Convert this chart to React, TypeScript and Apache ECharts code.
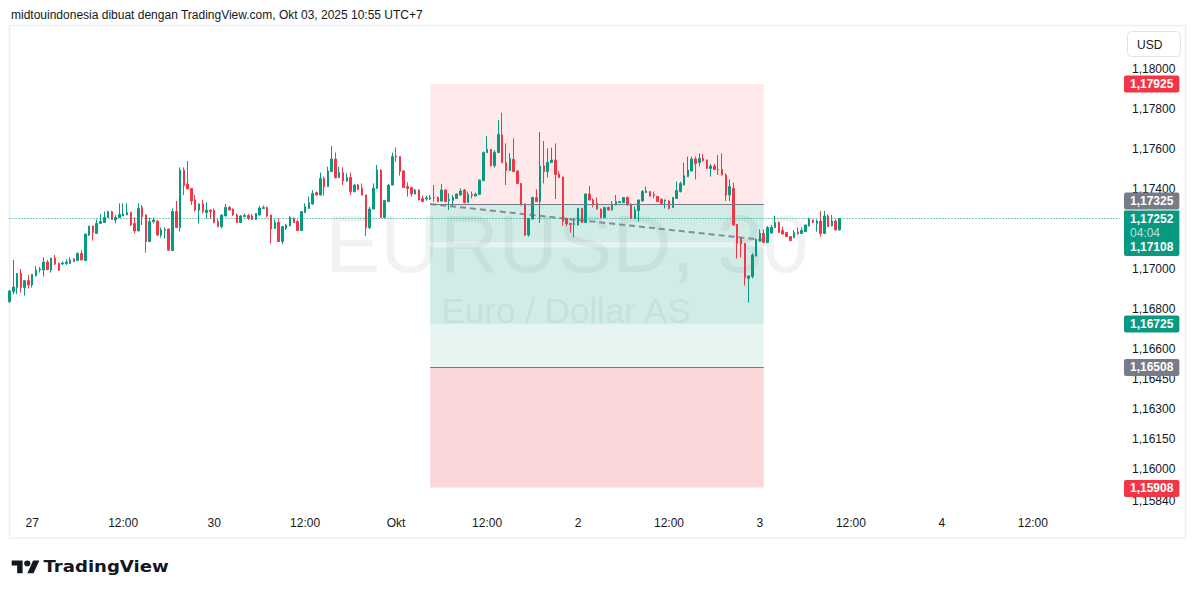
import React, { useEffect, useRef } from 'react';
import * as echarts from 'echarts';

// ---------- data ----------
// 30-minute EURUSD candles, each row: [open, high, low, close]
const candles: number[][] = [
  [1.16837, 1.16895, 1.16830, 1.16890], [1.16887, 1.17045, 1.16875, 1.16910], [1.16907, 1.16978, 1.16875, 1.16978],
  [1.16978, 1.17000, 1.16882, 1.16907], [1.16907, 1.16945, 1.16867, 1.16942], [1.16942, 1.16970, 1.16903, 1.16920],
  [1.16920, 1.16975, 1.16907, 1.16973], [1.16967, 1.17015, 1.16962, 1.16995], [1.16995, 1.17010, 1.16982, 1.17000],
  [1.16995, 1.17058, 1.16962, 1.17035], [1.17035, 1.17045, 1.16995, 1.16997], [1.16995, 1.17055, 1.16982, 1.17055],
  [1.17055, 1.17070, 1.17020, 1.17025], [1.17028, 1.17033, 1.16990, 1.16995], [1.17025, 1.17037, 1.17020, 1.17030],
  [1.17028, 1.17048, 1.17020, 1.17035], [1.17028, 1.17058, 1.17025, 1.17045], [1.17050, 1.17055, 1.17037, 1.17037],
  [1.17042, 1.17083, 1.17042, 1.17078], [1.17078, 1.17095, 1.17045, 1.17045], [1.17042, 1.17175, 1.17042, 1.17175],
  [1.17170, 1.17215, 1.17165, 1.17215], [1.17215, 1.17217, 1.17142, 1.17182], [1.17178, 1.17248, 1.17178, 1.17228],
  [1.17228, 1.17275, 1.17228, 1.17237], [1.17232, 1.17287, 1.17232, 1.17258], [1.17257, 1.17292, 1.17257, 1.17287],
  [1.17287, 1.17292, 1.17245, 1.17248], [1.17245, 1.17270, 1.17228, 1.17258], [1.17257, 1.17328, 1.17257, 1.17272],
  [1.17265, 1.17328, 1.17265, 1.17275], [1.17270, 1.17328, 1.17270, 1.17282], [1.17282, 1.17287, 1.17215, 1.17220],
  [1.17228, 1.17258, 1.17178, 1.17190], [1.17190, 1.17328, 1.17190, 1.17303], [1.17308, 1.17320, 1.17220, 1.17262],
  [1.17270, 1.17272, 1.17082, 1.17137], [1.17137, 1.17257, 1.17137, 1.17237], [1.17237, 1.17258, 1.17228, 1.17245],
  [1.17240, 1.17243, 1.17165, 1.17170], [1.17170, 1.17208, 1.17158, 1.17195], [1.17193, 1.17208, 1.17153, 1.17197],
  [1.17200, 1.17202, 1.17092, 1.17094], [1.17092, 1.17303, 1.17092, 1.17287], [1.17287, 1.17340, 1.17208, 1.17208],
  [1.17208, 1.17508, 1.17187, 1.17495], [1.17495, 1.17508, 1.17370, 1.17417], [1.17425, 1.17540, 1.17400, 1.17400],
  [1.17403, 1.17405, 1.17320, 1.17340], [1.17345, 1.17370, 1.17287, 1.17295], [1.17295, 1.17328, 1.17228, 1.17325],
  [1.17325, 1.17345, 1.17278, 1.17287], [1.17282, 1.17333, 1.17253, 1.17295], [1.17295, 1.17297, 1.17250, 1.17287],
  [1.17292, 1.17303, 1.17228, 1.17232], [1.17237, 1.17250, 1.17208, 1.17212], [1.17212, 1.17272, 1.17203, 1.17270],
  [1.17265, 1.17325, 1.17265, 1.17308], [1.17308, 1.17315, 1.17293, 1.17295], [1.17300, 1.17302, 1.17265, 1.17270],
  [1.17270, 1.17278, 1.17230, 1.17232], [1.17232, 1.17270, 1.17230, 1.17265], [1.17263, 1.17278, 1.17258, 1.17267],
  [1.17268, 1.17275, 1.17245, 1.17255], [1.17265, 1.17275, 1.17245, 1.17248], [1.17248, 1.17280, 1.17246, 1.17278],
  [1.17270, 1.17315, 1.17268, 1.17305], [1.17303, 1.17318, 1.17300, 1.17307], [1.17307, 1.17312, 1.17258, 1.17265],
  [1.17270, 1.17272, 1.17128, 1.17200], [1.17203, 1.17248, 1.17200, 1.17232], [1.17232, 1.17253, 1.17135, 1.17137],
  [1.17137, 1.17212, 1.17123, 1.17212], [1.17203, 1.17225, 1.17195, 1.17220], [1.17215, 1.17265, 1.17215, 1.17257],
  [1.17253, 1.17258, 1.17230, 1.17232], [1.17237, 1.17245, 1.17190, 1.17192], [1.17192, 1.17287, 1.17190, 1.17287],
  [1.17282, 1.17328, 1.17280, 1.17312], [1.17303, 1.17362, 1.17300, 1.17332], [1.17325, 1.17395, 1.17322, 1.17378],
  [1.17382, 1.17387, 1.17368, 1.17370], [1.17370, 1.17482, 1.17368, 1.17453], [1.17453, 1.17462, 1.17367, 1.17412],
  [1.17412, 1.17512, 1.17410, 1.17490], [1.17487, 1.17615, 1.17485, 1.17550], [1.17550, 1.17582, 1.17453, 1.17457],
  [1.17457, 1.17512, 1.17455, 1.17482], [1.17482, 1.17508, 1.17420, 1.17440], [1.17440, 1.17478, 1.17437, 1.17457],
  [1.17457, 1.17482, 1.17370, 1.17387], [1.17387, 1.17423, 1.17383, 1.17420], [1.17420, 1.17425, 1.17395, 1.17398],
  [1.17403, 1.17428, 1.17368, 1.17370], [1.17370, 1.17372, 1.17165, 1.17207], [1.17207, 1.17310, 1.17200, 1.17300],
  [1.17300, 1.17428, 1.17298, 1.17403], [1.17403, 1.17520, 1.17400, 1.17495], [1.17495, 1.17498, 1.17255, 1.17257],
  [1.17257, 1.17345, 1.17255, 1.17342], [1.17337, 1.17423, 1.17335, 1.17420], [1.17420, 1.17582, 1.17418, 1.17562],
  [1.17565, 1.17608, 1.17537, 1.17560], [1.17562, 1.17565, 1.17467, 1.17487], [1.17490, 1.17495, 1.17405, 1.17407],
  [1.17412, 1.17433, 1.17362, 1.17403], [1.17407, 1.17410, 1.17362, 1.17375], [1.17375, 1.17400, 1.17372, 1.17395],
  [1.17395, 1.17398, 1.17343, 1.17345], [1.17353, 1.17367, 1.17335, 1.17337], [1.17350, 1.17367, 1.17342, 1.17355],
  [1.17350, 1.17370, 1.17345, 1.17357], [1.17358, 1.17420, 1.17337, 1.17355], [1.17357, 1.17362, 1.17335, 1.17337],
  [1.17340, 1.17425, 1.17338, 1.17395], [1.17395, 1.17398, 1.17335, 1.17337], [1.17342, 1.17378, 1.17295, 1.17348],
  [1.17342, 1.17370, 1.17312, 1.17357], [1.17353, 1.17378, 1.17350, 1.17375], [1.17370, 1.17403, 1.17368, 1.17390],
  [1.17395, 1.17400, 1.17328, 1.17332], [1.17332, 1.17387, 1.17330, 1.17373], [1.17373, 1.17387, 1.17353, 1.17368],
  [1.17365, 1.17382, 1.17362, 1.17375], [1.17373, 1.17447, 1.17370, 1.17445], [1.17442, 1.17587, 1.17440, 1.17582],
  [1.17582, 1.17665, 1.17580, 1.17598], [1.17598, 1.17600, 1.17512, 1.17517], [1.17517, 1.17595, 1.17507, 1.17583],
  [1.17583, 1.17745, 1.17580, 1.17673], [1.17670, 1.17782, 1.17530, 1.17532], [1.17532, 1.17628, 1.17420, 1.17492],
  [1.17492, 1.17580, 1.17490, 1.17553], [1.17548, 1.17653, 1.17485, 1.17487], [1.17490, 1.17492, 1.17425, 1.17428],
  [1.17428, 1.17430, 1.17318, 1.17320], [1.17325, 1.17328, 1.17165, 1.17170], [1.17170, 1.17255, 1.17162, 1.17253],
  [1.17250, 1.17362, 1.17248, 1.17357], [1.17357, 1.17398, 1.17335, 1.17337], [1.17337, 1.17685, 1.17230, 1.17515],
  [1.17515, 1.17640, 1.17428, 1.17487], [1.17487, 1.17603, 1.17458, 1.17533], [1.17532, 1.17607, 1.17530, 1.17545],
  [1.17545, 1.17628, 1.17350, 1.17473], [1.17475, 1.17490, 1.17455, 1.17457], [1.17460, 1.17462, 1.17215, 1.17237],
  [1.17253, 1.17255, 1.17215, 1.17225], [1.17227, 1.17230, 1.17182, 1.17223], [1.17223, 1.17253, 1.17158, 1.17228],
  [1.17220, 1.17305, 1.17218, 1.17303], [1.17303, 1.17305, 1.17230, 1.17232], [1.17232, 1.17378, 1.17230, 1.17375],
  [1.17375, 1.17415, 1.17343, 1.17345], [1.17345, 1.17353, 1.17308, 1.17325], [1.17328, 1.17357, 1.17298, 1.17300],
  [1.17300, 1.17302, 1.17255, 1.17257], [1.17257, 1.17310, 1.17255, 1.17308], [1.17308, 1.17312, 1.17293, 1.17295],
  [1.17295, 1.17340, 1.17293, 1.17325], [1.17320, 1.17370, 1.17318, 1.17337], [1.17332, 1.17340, 1.17330, 1.17337],
  [1.17332, 1.17358, 1.17330, 1.17357], [1.17358, 1.17362, 1.17318, 1.17320], [1.17325, 1.17328, 1.17250, 1.17253],
  [1.17253, 1.17312, 1.17250, 1.17295], [1.17292, 1.17347, 1.17237, 1.17345], [1.17340, 1.17395, 1.17337, 1.17387],
  [1.17383, 1.17412, 1.17380, 1.17390], [1.17387, 1.17390, 1.17362, 1.17365], [1.17373, 1.17387, 1.17353, 1.17367],
  [1.17362, 1.17365, 1.17335, 1.17337], [1.17348, 1.17353, 1.17325, 1.17328], [1.17340, 1.17347, 1.17303, 1.17345],
  [1.17340, 1.17345, 1.17298, 1.17303], [1.17307, 1.17360, 1.17305, 1.17358], [1.17353, 1.17437, 1.17350, 1.17392],
  [1.17387, 1.17437, 1.17383, 1.17428], [1.17420, 1.17532, 1.17418, 1.17467], [1.17462, 1.17562, 1.17460, 1.17495],
  [1.17490, 1.17562, 1.17488, 1.17550], [1.17550, 1.17562, 1.17448, 1.17528], [1.17532, 1.17578, 1.17512, 1.17553],
  [1.17553, 1.17575, 1.17537, 1.17542], [1.17545, 1.17548, 1.17500, 1.17503], [1.17503, 1.17525, 1.17462, 1.17515],
  [1.17515, 1.17525, 1.17495, 1.17498], [1.17498, 1.17570, 1.17470, 1.17495], [1.17498, 1.17578, 1.17468, 1.17470],
  [1.17470, 1.17478, 1.17340, 1.17370], [1.17370, 1.17448, 1.17340, 1.17412], [1.17403, 1.17432, 1.17218, 1.17220],
  [1.17223, 1.17225, 1.17053, 1.17128], [1.17153, 1.17157, 1.17058, 1.17125], [1.17128, 1.17130, 1.16917, 1.16957],
  [1.16953, 1.16970, 1.16832, 1.16965], [1.16962, 1.17078, 1.16953, 1.17070], [1.17065, 1.17152, 1.17063, 1.17148],
  [1.17137, 1.17198, 1.17135, 1.17178], [1.17178, 1.17198, 1.17130, 1.17133], [1.17132, 1.17215, 1.17130, 1.17207],
  [1.17180, 1.17220, 1.17178, 1.17208], [1.17208, 1.17265, 1.17207, 1.17232], [1.17232, 1.17237, 1.17180, 1.17182],
  [1.17192, 1.17212, 1.17172, 1.17175], [1.17182, 1.17185, 1.17160, 1.17162], [1.17162, 1.17165, 1.17140, 1.17142],
  [1.17157, 1.17195, 1.17155, 1.17182], [1.17185, 1.17207, 1.17170, 1.17178], [1.17178, 1.17207, 1.17175, 1.17192],
  [1.17187, 1.17222, 1.17185, 1.17220], [1.17215, 1.17257, 1.17213, 1.17250], [1.17245, 1.17248, 1.17230, 1.17232],
  [1.17228, 1.17248, 1.17187, 1.17240], [1.17240, 1.17290, 1.17162, 1.17178], [1.17178, 1.17290, 1.17175, 1.17265],
  [1.17265, 1.17275, 1.17210, 1.17212], [1.17215, 1.17270, 1.17213, 1.17240], [1.17240, 1.17248, 1.17193, 1.17195],
  [1.17195, 1.17255, 1.17193, 1.17252],
];

const slotCount = 294; // 30-min slots visible on the time axis
const timeTickIndex = [6, 30, 54, 78, 102, 126, 150, 174, 198, 222, 246, 270];
const timeTickLabels = ['27', '12:00', '30', '12:00', 'Okt', '12:00', '2', '12:00', '3', '12:00', '4', '12:00'];

const priceTicks = [1.18, 1.178, 1.176, 1.174, 1.17, 1.168, 1.166, 1.1645, 1.163, 1.1615, 1.16, 1.1584];
const priceMin = 1.158;
const priceMax = 1.1822;

const lastPrice = 1.17252;
const countdown = '04:04';

const badgeValues = [1.17925, 1.17325, 1.17108, 1.16725, 1.16508, 1.15908];
const badgeColors = ['#f23645', '#787b86', '#089981', '#089981', '#787b86', '#f23645'];
const badgeShift = [0, -3, 0, 0, 0, 1];

// position tool
const zoneStart = 111;
const zoneEnd = 199;
const zoneEdges = [1.17925, 1.17325, 1.17135, 1.17108, 1.16725, 1.16508, 1.15908];
const zoneColors = [
  'rgba(242,54,69,0.11)',
  'rgba(8,153,129,0.19)',
  'rgba(8,153,129,0.1)',
  'rgba(8,153,129,0.19)',
  'rgba(8,153,129,0.1)',
  'rgba(242,54,69,0.2)',
];
const entryLevels = [1.17325, 1.16508];
const tradePath = [[111, 1.17325], [199, 1.17145]];

const headerText = 'midtouindonesia dibuat dengan TradingView.com, Okt 03, 2025 10:55 UTC+7';
const watermarkMain = 'EURUSD, 30';
const watermarkSub = 'Euro / Dollar AS';

// ---------- helpers ----------
const UP = '#089981';
const DOWN = '#f23645';
const TEXT = '#131722';
const FONT = 'Liberation Sans';
const fmt = (v: number) => Number(v).toFixed(5).replace('.', ',');

echarts.graphic.registerShape(
  'tvlogo',
  echarts.graphic.extendPath(
    'M14 22H7V11H0V4h14v18zM28 22h-8l7.5-18h8L28 22zM16 8a4 4 0 1 0 8 0a4 4 0 1 0 -8 0z',
    {}
  )
);

export default function App() {
  const ref = useRef<HTMLDivElement>(null);

  useEffect(() => {
    if (!ref.current) return;
    const chart = echarts.init(ref.current, undefined, { renderer: 'svg' });

    const slots = Array.from({ length: slotCount }, (_, i) => String(i));
    const labelAt: Record<number, string> = {};
    timeTickIndex.forEach((idx, k) => {
      labelAt[idx] = timeTickLabels[k];
    });

    const badgeLabel = (v: number, color: string, offsetY: number) => ({
      show: true,
      position: 'end',
      distance: 4,
      formatter: () => fmt(v),
      color: '#ffffff',
      backgroundColor: color,
      padding: [2, 6, 1, 6],
      fontSize: 12,
      fontWeight: 'bold',
      fontFamily: FONT,
      lineHeight: 14,
      borderRadius: 2,
      offset: [0, offsetY],
    });

    const option: any = {
      animation: false,
      backgroundColor: '#ffffff',
      textStyle: { fontFamily: FONT },
      grid: { left: 9.5, right: 75, top: 25, bottom: 89 },
      xAxis: {
        type: 'category',
        data: slots,
        boundaryGap: false,
        axisLine: { show: false },
        axisTick: { show: false },
        splitLine: { show: false },
        axisLabel: {
          interval: 0,
          margin: 8,
          color: TEXT,
          fontSize: 12,
          fontFamily: FONT,
          formatter: (_v: string, i: number) => labelAt[i] ?? '',
        },
      },
      yAxis: {
        type: 'value',
        position: 'right',
        min: priceMin,
        max: priceMax,
        scale: true,
        axisLine: { show: false },
        axisTick: { show: false },
        splitLine: { show: false },
        axisLabel: {
          customValues: priceTicks,
          margin: 12,
          color: TEXT,
          fontSize: 12,
          fontFamily: FONT,
          formatter: (v: number) => fmt(v),
        },
      },
      graphic: {
        elements: [
          {
            type: 'rect',
            silent: true,
            shape: { x: 9.5, y: 25.5, width: 1176, height: 512.5 },
            style: { fill: 'none', stroke: '#eceef2', lineWidth: 1.5 },
          },
          {
            type: 'text',
            silent: true,
            x: 11,
            y: 14.5,
            style: { text: headerText, fill: TEXT, fontSize: 12, fontFamily: FONT, verticalAlign: 'middle', textVerticalAlign: 'middle' },
          },
          {
            type: 'text',
            silent: true,
            x: 567,
            y: 243,
            style: {
              text: watermarkMain,
              fill: 'rgba(120,123,134,0.1)',
              fontSize: 82,
              fontFamily: FONT,
              align: 'center',
              textAlign: 'center',
              verticalAlign: 'middle',
              textVerticalAlign: 'middle',
            },
          },
          {
            type: 'text',
            silent: true,
            x: 566,
            y: 310,
            style: {
              text: watermarkSub,
              fill: 'rgba(120,123,134,0.1)',
              fontSize: 35,
              fontFamily: FONT,
              align: 'center',
              textAlign: 'center',
              verticalAlign: 'middle',
              textVerticalAlign: 'middle',
            },
          },
          {
            type: 'rect',
            silent: true,
            shape: { x: 1127.5, y: 31.5, width: 53, height: 25, r: 4 },
            style: { fill: '#ffffff', stroke: '#e0e3eb', lineWidth: 1 },
          },
          {
            type: 'text',
            silent: true,
            x: 1137,
            y: 44.5,
            style: { text: 'USD', fill: TEXT, fontSize: 12, fontFamily: FONT, verticalAlign: 'middle', textVerticalAlign: 'middle' },
          },
          {
            type: 'tvlogo',
            silent: true,
            x: 11.7,
            y: 557.8,
            scaleX: 0.78,
            scaleY: 0.7,
            style: { fill: TEXT },
          },
          {
            type: 'text',
            silent: true,
            x: 43.5,
            y: 566.5,
            scaleX: 1.13,
            style: {
              text: 'TradingView',
              fill: TEXT,
              fontSize: 16,
              fontWeight: 'bold',
              fontFamily: 'DejaVu Sans',
              verticalAlign: 'middle',
              textVerticalAlign: 'middle',
            },
          },
        ],
      },
      series: [
        {
          name: 'Position',
          type: 'line',
          z: 1,
          data: [],
          silent: true,
          markArea: {
            silent: true,
            data: zoneColors.map((c, k) => [
              { xAxis: zoneStart, yAxis: zoneEdges[k], itemStyle: { color: c } },
              { xAxis: zoneEnd, yAxis: zoneEdges[k + 1] },
            ]),
          },
          markLine: {
            silent: true,
            precision: 5,
            symbol: ['none', 'none'],
            label: { show: false },
            lineStyle: { color: '#787b86', width: 1, type: 'solid' },
            data: entryLevels.map((v) => [{ coord: [zoneStart, v] }, { coord: [zoneEnd, v] }]),
          },
        },
        {
          name: 'Trade',
          type: 'line',
          z: 2,
          data: tradePath,
          silent: true,
          symbol: 'none',
          showSymbol: false,
          lineStyle: { color: 'rgba(120,123,134,0.85)', width: 2, type: [6, 4] },
        },
        {
          name: 'EURUSD',
          type: 'candlestick',
          z: 3,
          barWidth: 2,
          data: candles.map(([o, h, l, c]) => [o, c, l, h]),
          itemStyle: {
            color: UP,
            color0: DOWN,
            borderColor: UP,
            borderColor0: DOWN,
            borderColorDoji: UP,
            borderWidth: 1,
          },
          markLine: {
            silent: true,
            precision: 5,
            symbol: ['none', 'none'],
            data: [
              {
                yAxis: lastPrice,
                lineStyle: { color: UP, width: 1, type: [1, 2] },
                label: {
                  show: true,
                  position: 'end',
                  distance: 4,
                  formatter: () => `{a|${fmt(lastPrice)}}\n{b|${countdown}}`,
                  backgroundColor: UP,
                  padding: [1, 6, 2, 6],
                  verticalAlign: 'top',
                  offset: [0, -8],
                  rich: {
                    a: { color: '#ffffff', fontWeight: 'bold', fontSize: 12, lineHeight: 14, fontFamily: FONT },
                    b: { color: 'rgba(255,255,255,0.72)', fontSize: 12, lineHeight: 14, fontFamily: FONT },
                  },
                },
              },
              ...badgeValues.map((v, k) => ({
                yAxis: v,
                lineStyle: { color: 'rgba(0,0,0,0)', width: 0 },
                label: badgeLabel(v, badgeColors[k], badgeShift[k]),
              })),
            ],
          },
        },
      ],
    };

    chart.setOption(option);
    return () => chart.dispose();
  }, []);

  return (
    <div
      ref={ref}
      style={{ position: 'fixed', left: 0, top: 0, width: 1195, height: 598, background: '#ffffff' }}
    />
  );
}
